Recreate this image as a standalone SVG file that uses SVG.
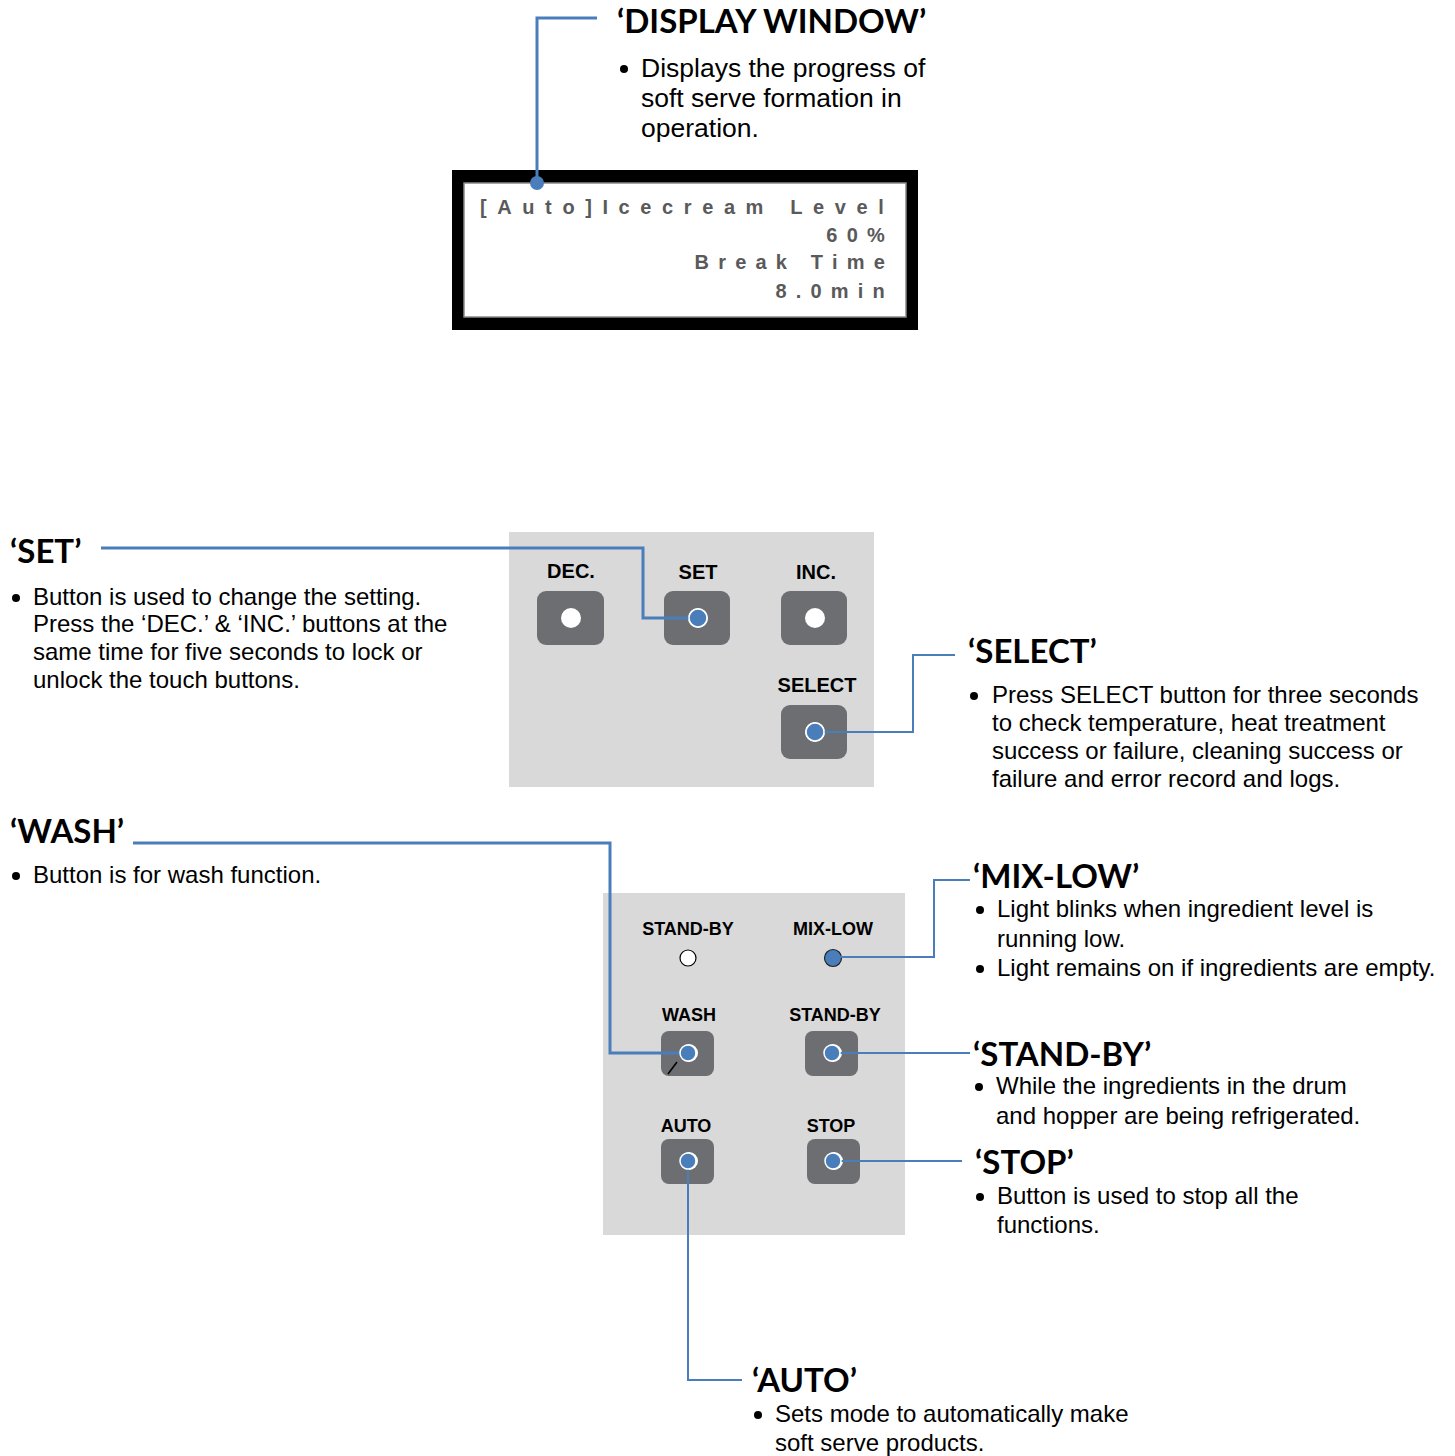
<svg xmlns="http://www.w3.org/2000/svg" width="1455" height="1456" viewBox="0 0 1455 1456">
<style>
.h{font-family:Lato,"Open Sans",sans-serif;font-weight:bold;font-size:33px;fill:#000}
.b{font-family:"Liberation Sans",Arial,sans-serif;font-size:24px;fill:#000}
.bl{font-family:"Liberation Sans",Arial,sans-serif;font-size:26.5px;fill:#000}
.lbl{font-family:"Liberation Sans",Arial,sans-serif;font-weight:bold;font-size:20px;fill:#000;text-anchor:middle}
.lbl2{font-family:"Liberation Sans",Arial,sans-serif;font-weight:bold;font-size:18px;fill:#000;text-anchor:middle}
.lcd{font-family:"Liberation Sans",Arial,sans-serif;font-weight:bold;font-size:20px;fill:#5a5a5a;letter-spacing:10.6px}
.lcdr{font-family:"Liberation Sans",Arial,sans-serif;font-weight:bold;font-size:20px;fill:#5a5a5a;letter-spacing:9.2px;text-anchor:end}
.btn{fill:#6d6e71}
.panel{fill:#d9d9d9}
.wd{fill:#fff}
.bd{fill:#4a7ebb;stroke:#fff;stroke-width:1.5}
.c{fill:none;stroke:#4a7ebb;stroke-width:3}
.c2{fill:none;stroke:#4a7ebb;stroke-width:2}
</style>
<rect width="1455" height="1456" fill="#fff"/>

<g id="display-window">
<rect x="452" y="170" width="466" height="160" fill="#000"/>
<rect x="464" y="183" width="442" height="134" fill="#fff" stroke="#888" stroke-width="1.5"/>
<text class="lcd" x="480" y="214">[Auto]Icecream Level</text>
<text class="lcdr" x="894" y="242">60%</text>
<text class="lcdr" x="894" y="269">Break Time</text>
<text class="lcdr" x="894" y="298">8.0min</text>
</g>

<g id="label-display">
<text class="h" x="617" y="33">‘DISPLAY WINDOW’</text>
<circle cx="624" cy="69" r="4"/>
<text class="bl" x="641" y="77">Displays the progress of</text>
<text class="bl" x="641" y="107">soft serve formation in</text>
<text class="bl" x="641" y="137">operation.</text>
</g>

<g id="panel-top">
<rect class="panel" x="509" y="532" width="365" height="255"/>
<text class="lbl" x="571" y="578">DEC.</text>
<text class="lbl" x="698" y="579">SET</text>
<text class="lbl" x="816" y="579">INC.</text>
<text class="lbl" x="817" y="692">SELECT</text>
<rect class="btn" x="537" y="591" width="67" height="54" rx="9"/>
<rect class="btn" x="664" y="591" width="66" height="54" rx="9"/>
<rect class="btn" x="781" y="591" width="66" height="54" rx="9"/>
<rect class="btn" x="781" y="705" width="66" height="54" rx="9"/>
<circle class="wd" cx="571" cy="618" r="10"/>
<circle class="wd" cx="698" cy="618" r="10"/>
<circle class="wd" cx="815" cy="618" r="10"/>
<circle class="wd" cx="815" cy="732" r="10"/>
</g>

<g id="panel-bottom">
<rect class="panel" x="603" y="893" width="302" height="342"/>
<text class="lbl2" x="688" y="935">STAND-BY</text>
<text class="lbl2" x="833" y="935">MIX-LOW</text>
<circle cx="688" cy="958" r="8" fill="#fff" stroke="#000" stroke-width="1.2"/>
<circle cx="833" cy="958" r="8.5" fill="#4a7ebb" stroke="#222" stroke-width="1.2"/>
<text class="lbl2" x="689" y="1021">WASH</text>
<text class="lbl2" x="835" y="1021">STAND-BY</text>
<rect class="btn" x="661" y="1031" width="53" height="45" rx="8"/>
<rect class="btn" x="805" y="1031" width="53" height="45" rx="8"/>
<line x1="668" y1="1074" x2="677" y2="1062" stroke="#000" stroke-width="1.5"/>
<text class="lbl2" x="686" y="1132">AUTO</text>
<text class="lbl2" x="831" y="1132">STOP</text>
<rect class="btn" x="661" y="1139" width="53" height="45" rx="8"/>
<rect class="btn" x="807" y="1139" width="53" height="45" rx="8"/>
<circle class="wd" cx="689" cy="1053" r="9"/>
<circle class="wd" cx="833" cy="1053" r="9"/>
<circle class="wd" cx="689" cy="1161" r="9"/>
<circle class="wd" cx="834" cy="1161" r="9"/>
</g>

<g id="label-set">
<text class="h" x="10" y="563">‘SET’</text>
<circle cx="16" cy="598" r="4"/>
<text class="b" x="33" y="605">Button is used to change the setting.</text>
<text class="b" x="33" y="632">Press the ‘DEC.’ &amp; ‘INC.’ buttons at the</text>
<text class="b" x="33" y="660">same time for five seconds to lock or</text>
<text class="b" x="33" y="688">unlock the touch buttons.</text>
</g>

<g id="label-select">
<text class="h" x="968" y="663">‘SELECT’</text>
<circle cx="974" cy="696" r="4"/>
<text class="b" x="992" y="703">Press SELECT button for three seconds</text>
<text class="b" x="992" y="731">to check temperature, heat treatment</text>
<text class="b" x="992" y="759">success or failure, cleaning success or</text>
<text class="b" x="992" y="787">failure and error record and logs.</text>
</g>

<g id="label-wash">
<text class="h" x="10" y="843">‘WASH’</text>
<circle cx="16" cy="876" r="4"/>
<text class="b" x="33" y="883">Button is for wash function.</text>
</g>

<g id="label-mixlow">
<text class="h" x="973" y="888">‘MIX-LOW’</text>
<circle cx="980" cy="910" r="4"/>
<text class="b" x="997" y="917">Light blinks when ingredient level is</text>
<text class="b" x="997" y="947">running low.</text>
<circle cx="980" cy="969" r="4"/>
<text class="b" x="997" y="976">Light remains on if ingredients are empty.</text>
</g>

<g id="label-standby">
<text class="h" x="973" y="1066">‘STAND-BY’</text>
<circle cx="979" cy="1087" r="4"/>
<text class="b" x="996" y="1094">While the ingredients in the drum</text>
<text class="b" x="996" y="1124">and hopper are being refrigerated.</text>
</g>

<g id="label-stop">
<text class="h" x="975" y="1174">‘STOP’</text>
<circle cx="980" cy="1197" r="4"/>
<text class="b" x="997" y="1204">Button is used to stop all the</text>
<text class="b" x="997" y="1233">functions.</text>
</g>

<g id="label-auto">
<text class="h" x="752" y="1392">‘AUTO’</text>
<circle cx="758" cy="1415" r="4"/>
<text class="b" x="775" y="1422">Sets mode to automatically make</text>
<text class="b" x="775" y="1451">soft serve products.</text>
</g>

<g id="connectors">
<polyline class="c" points="597,18 537,18 537,183"/>
<polyline class="c" points="101,548 643,548 643,618 698,618"/>
<polyline class="c2" points="815,732 913,732 913,655 955,655"/>
<polyline class="c" points="133,843 610,843 610,1053 688,1053"/>
<polyline class="c2" points="833,957 934,957 934,880 970,880"/>
<polyline class="c2" points="832,1053 970,1053"/>
<polyline class="c2" points="833,1161 962,1161"/>
<polyline class="c2" points="688,1161 688,1380 742,1380"/>
<circle cx="537" cy="183" r="7" fill="#4a7ebb"/>
<circle class="bd" cx="698" cy="618" r="9"/>
<circle class="bd" cx="815" cy="732" r="9"/>
<circle cx="833" cy="958" r="7" fill="#4a7ebb"/>
<circle class="bd" cx="688" cy="1053" r="8"/>
<circle class="bd" cx="832" cy="1053" r="8"/>
<circle class="bd" cx="688" cy="1161" r="8"/>
<circle class="bd" cx="833" cy="1161" r="8"/>
</g>
</svg>
